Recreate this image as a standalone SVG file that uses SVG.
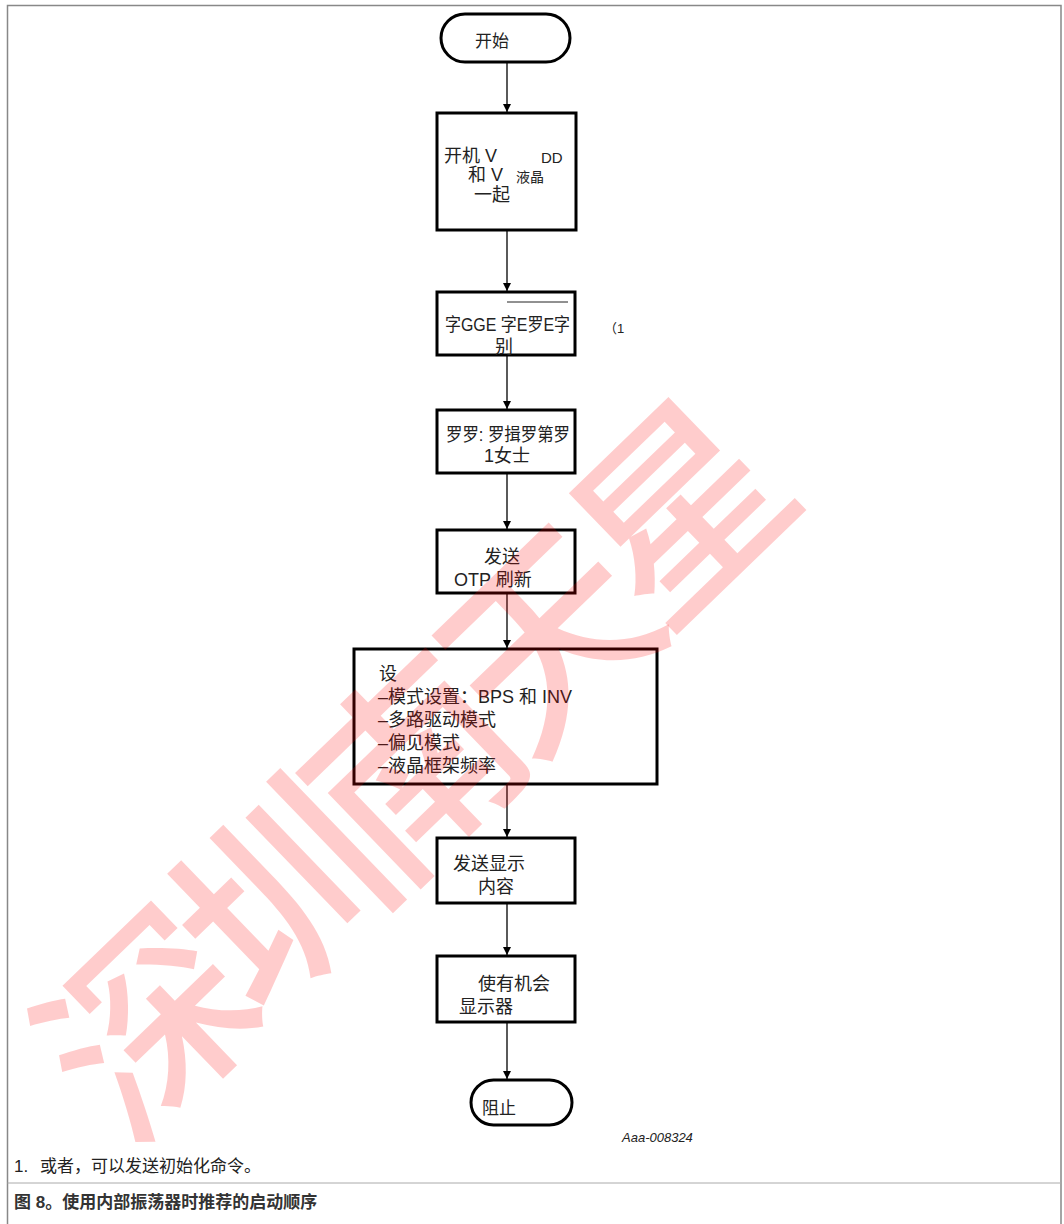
<svg xmlns="http://www.w3.org/2000/svg" width="1064" height="1224" viewBox="0 0 1064 1224">
<style>
.t{font-family:"Liberation Sans","Noto Sans CJK SC",sans-serif;font-size:18px;fill:#222}
.f{font-family:"Liberation Sans","Noto Sans CJK SC",sans-serif;font-size:17px;fill:#222}
.s{font-family:"Liberation Sans","Noto Sans CJK SC",sans-serif;font-size:13px;fill:#222}
.box{fill:#fff;stroke:#000;stroke-width:3}
.ln{stroke:#000;stroke-width:1.3;fill:none}
.wm{font-family:"Noto Sans CJK SC",sans-serif;font-size:205px;font-weight:500;fill:#ff0000;fill-opacity:0.2}
</style>
<defs>
<marker id="ah" viewBox="0 0 10 10" refX="10" refY="5" markerWidth="8" markerHeight="8" markerUnits="userSpaceOnUse" orient="auto">
<path d="M0,0 L10,5 L0,10 z" fill="#000"/>
</marker>
</defs>
<rect width="1064" height="1224" fill="#fff"/>
<path d="M7.5,1224 V5.5 H1061 V1224" fill="none" stroke="#888" stroke-width="1.5"/>
<line x1="7.5" y1="1183" x2="1061" y2="1183" stroke="#aaa" stroke-width="1"/>
<g id="connectors">
<line class="ln" x1="507" y1="62" x2="507" y2="112" marker-end="url(#ah)"/>
<line class="ln" x1="507" y1="230" x2="507" y2="291" marker-end="url(#ah)"/>
<line class="ln" x1="507" y1="355" x2="507" y2="409" marker-end="url(#ah)"/>
<line class="ln" x1="507" y1="473" x2="507" y2="529" marker-end="url(#ah)"/>
<line class="ln" x1="507" y1="593" x2="507" y2="648" marker-end="url(#ah)"/>
<line class="ln" x1="507" y1="784" x2="507" y2="837" marker-end="url(#ah)"/>
<line class="ln" x1="507" y1="903" x2="507" y2="955" marker-end="url(#ah)"/>
<line class="ln" x1="507" y1="1022" x2="507" y2="1079" marker-end="url(#ah)"/>
</g>
<g id="start">
<rect class="box" x="441" y="14" width="129" height="48" rx="24" stroke-width="2.5"/>
<text class="f" x="475" y="47">开始</text>
</g>
<g id="power">
<rect class="box" x="437" y="113" width="139" height="117"/>
<text class="t" x="444" y="162">开机 V</text>
<text class="s" x="541" y="163" style="font-size:15px">DD</text>
<text class="t" x="468" y="181">和 V</text>
<text class="s" x="516" y="182" style="font-size:14px">液晶</text>
<text class="t" x="474" y="201">一起</text>
</g>
<g id="reset">
<rect class="box" x="437" y="292" width="138" height="63"/>
<text class="t" x="445" y="331" textLength="125" lengthAdjust="spacingAndGlyphs">字GGE 字E罗E字</text>
<line x1="507" y1="302" x2="568" y2="302" stroke="#222" stroke-width="1"/>
<text class="t" x="495" y="353">别</text>
</g>
<text id="note1" class="s" x="604" y="333">（1</text>
<g id="wait">
<rect class="box" x="437" y="410" width="138" height="63"/>
<text class="t" x="446" y="441" textLength="124" lengthAdjust="spacingAndGlyphs">罗罗: 罗揖罗第罗</text>
<text class="t" x="484" y="462">1女士</text>
</g>
<g id="otp">
<rect class="box" x="437" y="530" width="138" height="63"/>
<text class="t" x="484" y="563">发送</text>
<text class="t" x="454" y="586">OTP 刷新</text>
</g>
<g id="settings">
<rect class="box" x="354" y="649" width="303" height="135"/>
<text class="t" x="379" y="680">设</text>
<text class="t" x="378" y="703">–模式设置：BPS 和 INV</text>
<text class="t" x="378" y="726">–多路驱动模式</text>
<text class="t" x="378" y="749">–偏见模式</text>
<text class="t" x="378" y="772">–液晶框架频率</text>
</g>
<g id="display">
<rect class="box" x="437" y="838" width="138" height="65"/>
<text class="t" x="453" y="870">发送显示</text>
<text class="t" x="478" y="893">内容</text>
</g>
<g id="enable">
<rect class="box" x="437" y="956" width="138" height="66"/>
<text class="t" x="478" y="990">使有机会</text>
<text class="t" x="459" y="1013">显示器</text>
</g>
<g id="stop">
<rect class="box" x="471" y="1080" width="101" height="45" rx="22.5" stroke-width="2.5"/>
<text class="f" x="482" y="1114">阻止</text>
</g>
<text class="s" x="622" y="1142" font-style="italic">Aaa-008324</text>
<text class="f" x="14" y="1172">1.</text>
<text class="f" x="40" y="1172">或者，可以发送初始化命令。</text>
<text class="f" x="14" y="1208" font-weight="bold" style="fill:#333">图 8。使用内部振荡器时推荐的启动顺序</text>
<text class="wm" x="0" y="0" text-anchor="middle" transform="translate(460,828) rotate(-44)" letter-spacing="-20">深圳南天星</text>
</svg>
